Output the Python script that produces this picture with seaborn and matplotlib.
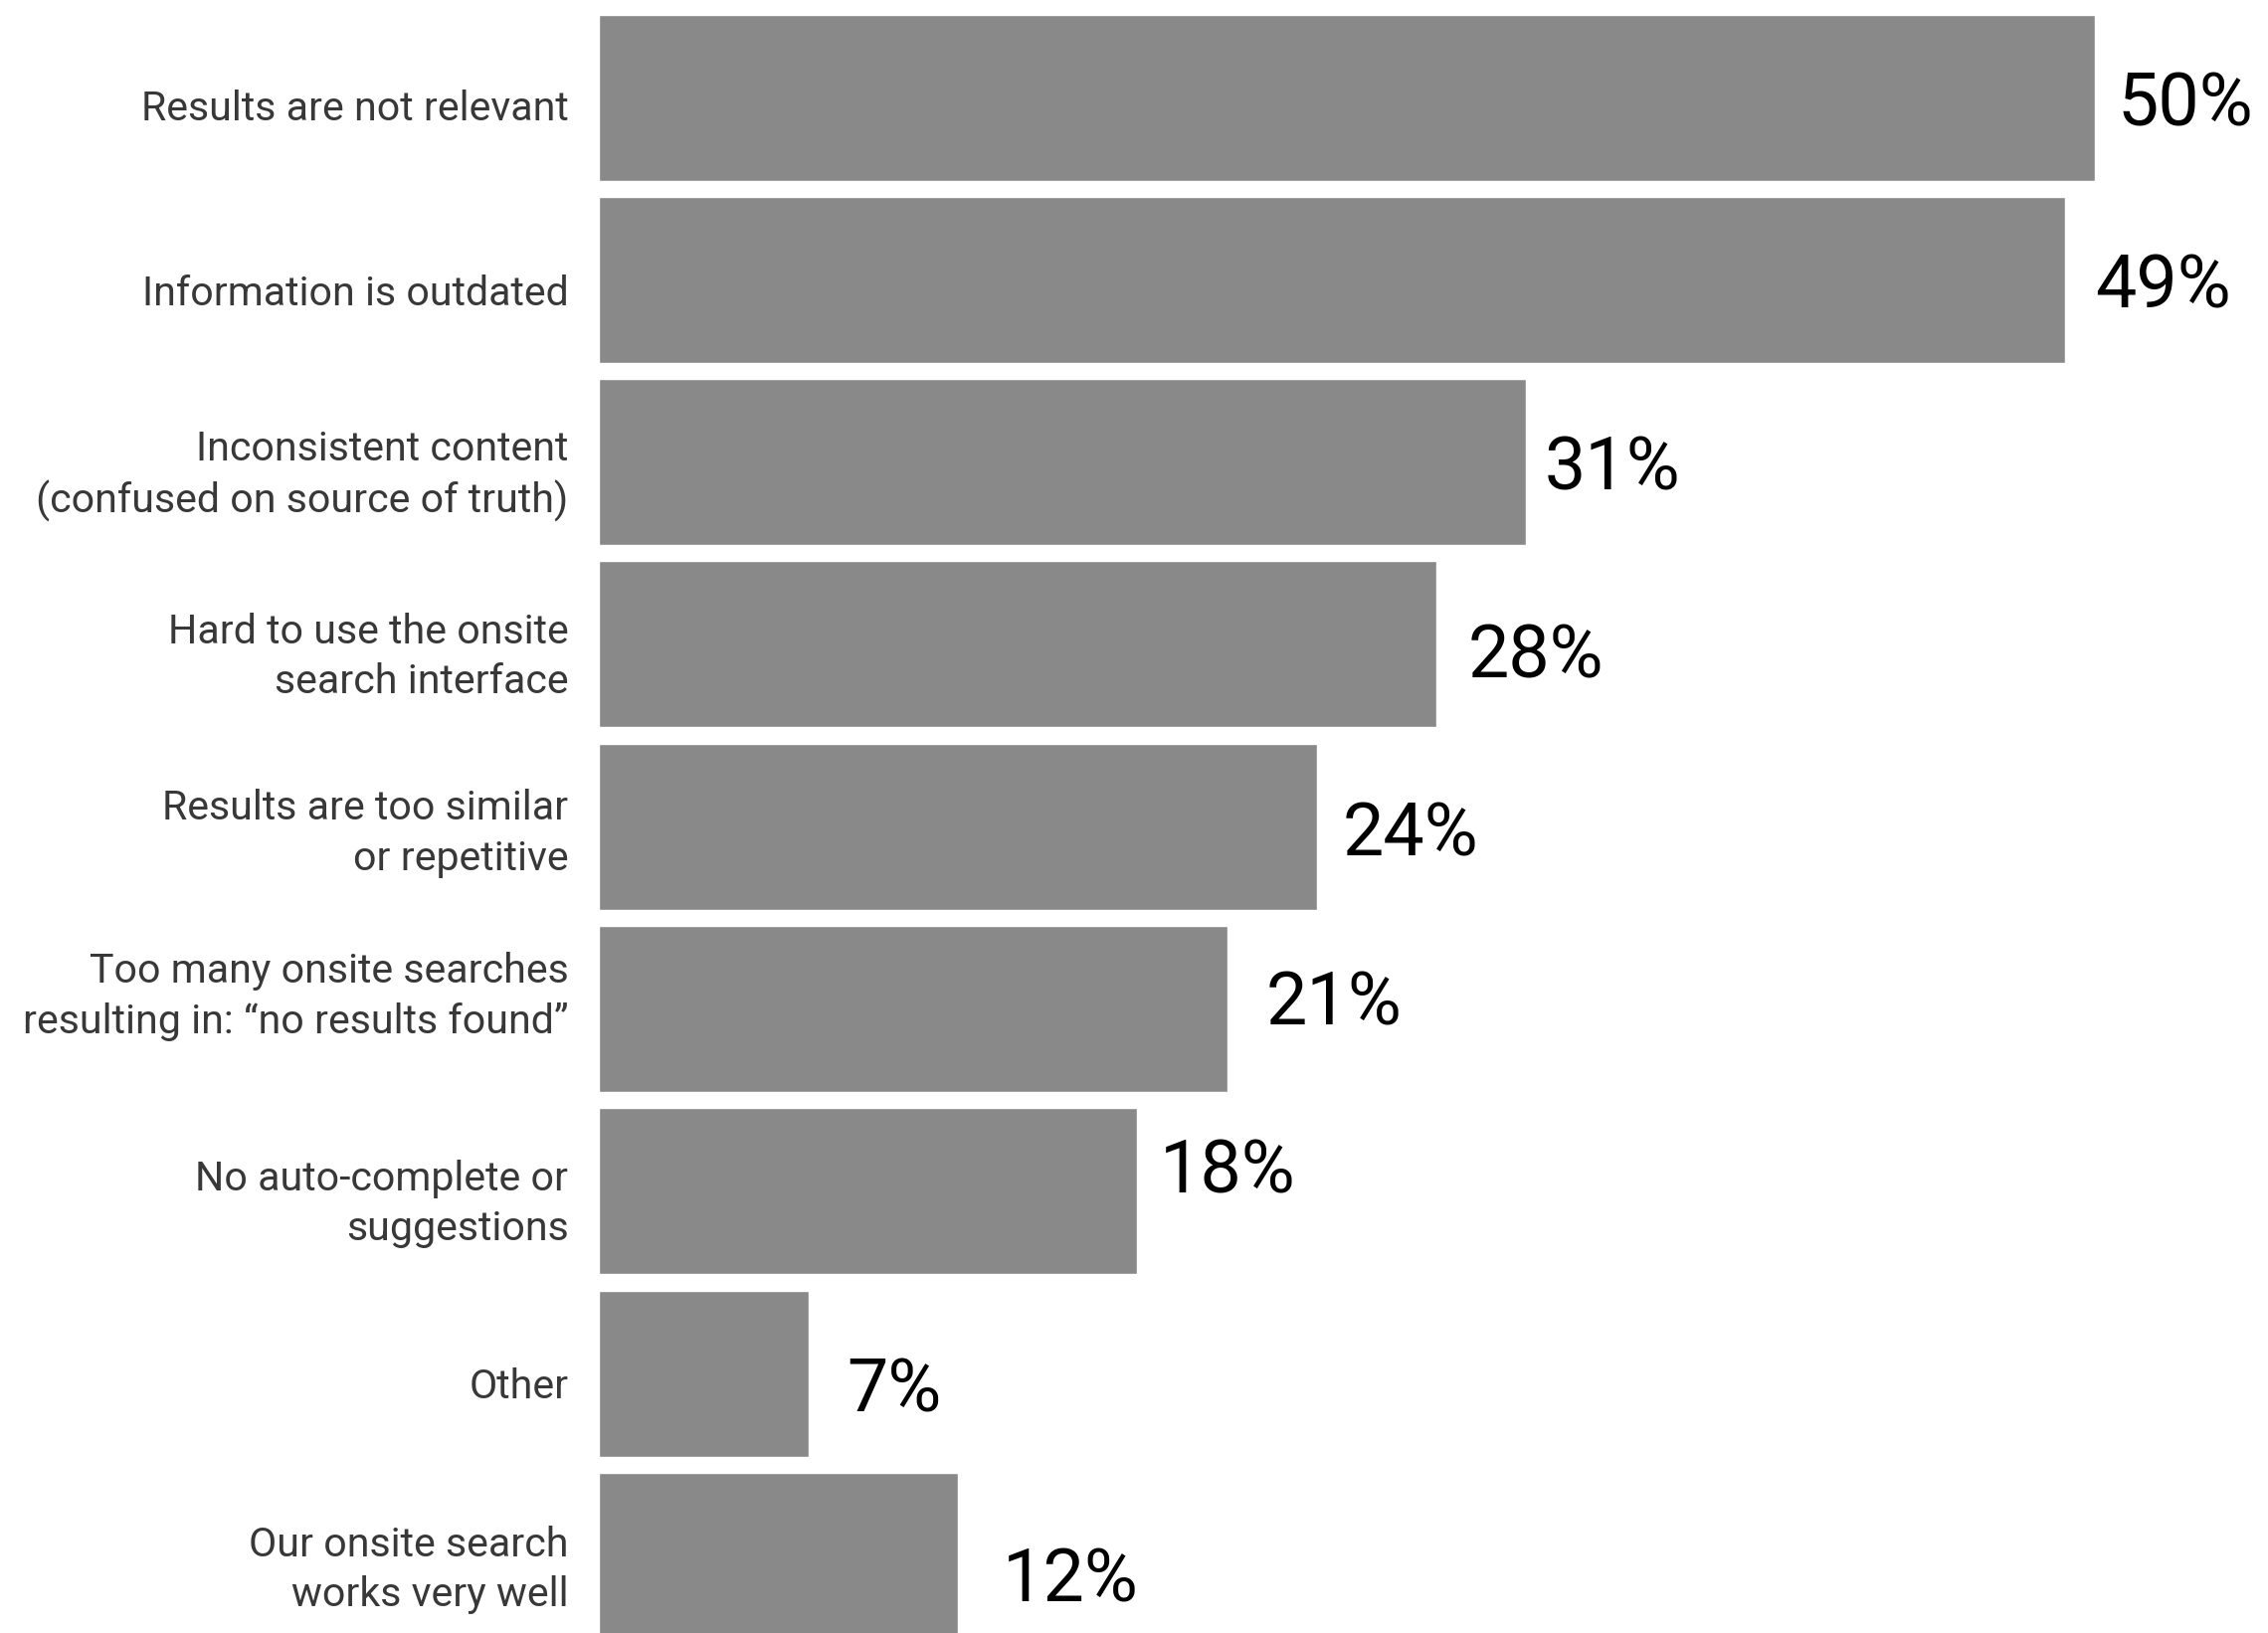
import matplotlib
matplotlib.use("Agg")
import matplotlib.pyplot as plt
import matplotlib.transforms as mtransforms
import seaborn as sns
import pandas as pd

categories = [
    "Results are not relevant",
    "Information is outdated",
    "Inconsistent content\n(confused on source of truth)",
    "Hard to use the onsite\nsearch interface",
    "Results are too similar\nor repetitive",
    "Too many onsite searches\nresulting in: \u201cno results found\u201d",
    "No auto-complete or\nsuggestions",
    "Other",
    "Our onsite search\nworks very well",
]
values = [50, 49, 31, 28, 24, 21, 18, 7, 12]
value_labels = ["50%", "49%", "31%", "28%", "24%", "21%", "18%", "7%", "12%"]

# label placement tweaks (gap in % units, vertical shift in category units)
label_gap = [0.75, 1.0, 0.6, 1.05, 0.85, 1.3, 0.75, 1.3, 1.5]
label_dy = [0.045, 0.04, 0.04, 0.07, 0.045, -0.025, -0.105, 0.1, 0.14]
# category label vertical shifts (points, positive = down)
cat_dy = [5, 7, 2, 2, -2, -16, 2.5, 6.5, 3]

sns.set_theme(style="white")
plt.rcParams["font.family"] = ["Roboto", "DejaVu Sans"]

df = pd.DataFrame({"category": categories, "value": values})

fig = plt.figure(figsize=(22.8, 16.42), dpi=100)
ax = fig.add_axes([602 / 2280, 0.0, 1 - 602 / 2280, 1.0])

sns.barplot(data=df, x="value", y="category", orient="h", color="#898989",
            saturation=1, width=0.911, ax=ax, order=categories)

ax.set_xlim(0, (2280 - 602) / 30.08)
ax.set_ylim(8.423, -0.535)
ax.set_xlabel("")
ax.set_ylabel("")
ax.set_xticks([])
sns.despine(ax=ax, left=True, bottom=True, top=True, right=True)
ax.tick_params(axis="y", length=0, pad=22)
for t, d in zip(ax.get_yticklabels(), cat_dy):
    t.set_fontsize(29.6)
    t.set_color("#383838")
    t.set_linespacing(1.36)
    t.set_fontweight("normal")
    t.set_transform(t.get_transform() +
                    mtransforms.ScaledTranslation(0, -d / 72, fig.dpi_scale_trans))

for i, (v, lab) in enumerate(zip(values, value_labels)):
    ax.text(v + label_gap[i], i + label_dy[i], lab, ha="left", va="center",
            fontsize=53, color="#000000", fontweight="normal")

fig.savefig("out.png", dpi=100)
